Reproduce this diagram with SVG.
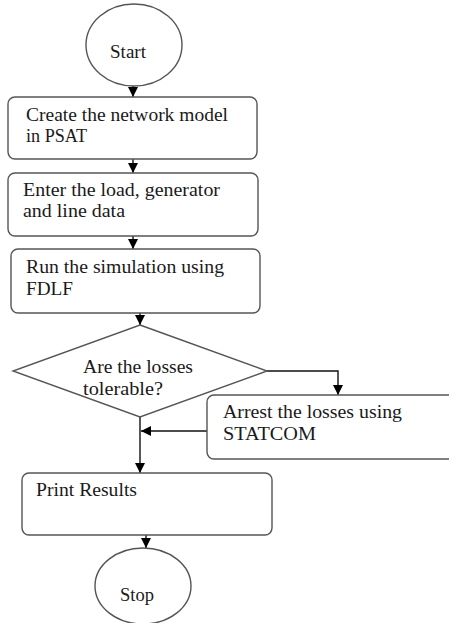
<svg xmlns="http://www.w3.org/2000/svg" width="449" height="623" viewBox="0 0 449 623">
<defs>
<marker id="arr" markerUnits="userSpaceOnUse" markerWidth="10" markerHeight="10" viewBox="0 0 10 10" refX="10" refY="5" orient="auto">
<path d="M0,0 L10,5 L0,10 Z" fill="#000"/>
</marker>
<style>
.shape{fill:#fff;stroke:#555;stroke-width:1.4}
.t{font-family:"Liberation Serif","Times New Roman",serif;font-size:19px;fill:#1a1a1a}
.c{fill:none;stroke:#111;stroke-width:1.4;marker-end:url(#arr)}
</style>
</defs>
<rect width="449" height="623" fill="#fff"/>
<g id="connectors">
<line class="c" x1="133" y1="86" x2="133" y2="97"/>
<line class="c" x1="133" y1="159" x2="133" y2="173"/>
<line class="c" x1="133" y1="236" x2="133" y2="249"/>
<line class="c" x1="140" y1="313" x2="140" y2="325"/>
<polyline class="c" points="267,371 338,371 338,395"/>
<line class="c" x1="140" y1="417" x2="140" y2="473"/>
<line class="c" x1="207" y1="431" x2="141" y2="431"/>
<line class="c" x1="146" y1="535" x2="146" y2="548"/>
</g>
<g id="start">
<ellipse class="shape" cx="134" cy="45" rx="48" ry="41"/>
<text class="t" x="110" y="58" textLength="36" lengthAdjust="spacingAndGlyphs">Start</text>
</g>
<g id="create">
<rect class="shape" x="8" y="97" width="249" height="62" rx="7"/>
<text class="t" x="26" y="121" textLength="202" lengthAdjust="spacingAndGlyphs">Create the network model</text>
<text class="t" x="26" y="142" textLength="61" lengthAdjust="spacingAndGlyphs">in PSAT</text>
</g>
<g id="enter">
<rect class="shape" x="8" y="173" width="250" height="63" rx="7"/>
<text class="t" x="23" y="196" textLength="197" lengthAdjust="spacingAndGlyphs">Enter the load, generator</text>
<text class="t" x="23" y="217" textLength="102" lengthAdjust="spacingAndGlyphs">and line data</text>
</g>
<g id="run">
<rect class="shape" x="11" y="249" width="249" height="64" rx="7"/>
<text class="t" x="26" y="273" textLength="198" lengthAdjust="spacingAndGlyphs">Run the simulation using</text>
<text class="t" x="26" y="295" textLength="47" lengthAdjust="spacingAndGlyphs">FDLF</text>
</g>
<g id="decision">
<polygon class="shape" points="140,325 267,371 140,417 13,371"/>
<text class="t" x="83" y="373" textLength="110" lengthAdjust="spacingAndGlyphs">Are the losses</text>
<text class="t" x="83" y="395" textLength="80" lengthAdjust="spacingAndGlyphs">tolerable?</text>
</g>
<g id="arrest">
<rect class="shape" x="207" y="395" width="252" height="64" rx="7"/>
<text class="t" x="223" y="418" textLength="179" lengthAdjust="spacingAndGlyphs">Arrest the losses using</text>
<text class="t" x="223" y="440" textLength="93" lengthAdjust="spacingAndGlyphs">STATCOM</text>
</g>
<g id="print">
<rect class="shape" x="22" y="473" width="250" height="62" rx="7"/>
<text class="t" x="36" y="496" textLength="101" lengthAdjust="spacingAndGlyphs">Print Results</text>
</g>
<g id="stop">
<ellipse class="shape" cx="143" cy="586" rx="48" ry="38"/>
<text class="t" x="120" y="601" textLength="34" lengthAdjust="spacingAndGlyphs">Stop</text>
</g>
</svg>
